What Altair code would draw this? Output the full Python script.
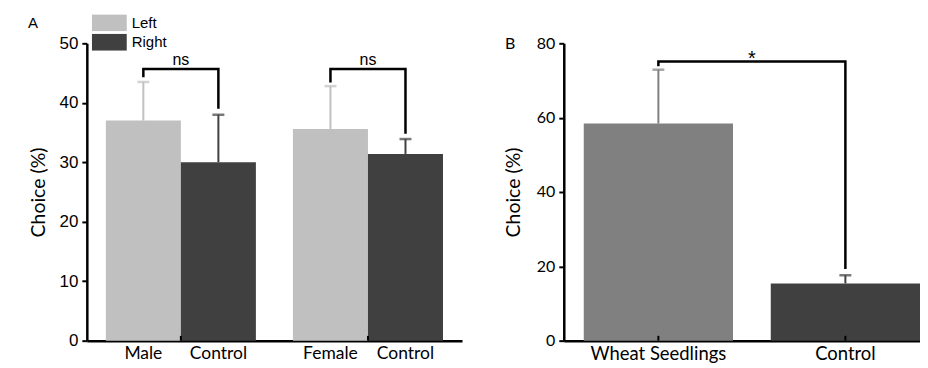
import altair as alt
import pandas as pd

# ---------------- Panel A data ----------------
groups_a = ["Male", "Female"]
sides_a = ["Left", "Right"]
left_mean = [37.0, 35.6]
left_sem = [6.5, 7.2]
right_mean = [30.0, 31.4]
right_sem = [8.0, 2.5]
labels_left = ["Male", "Female"]
labels_right = ["Control", "Control"]
bracket_a_top = [45.7, 45.7]
bracket_a_left_end = [44.3, 43.4]
bracket_a_right_end = [39.0, 34.8]
sig_a = ["ns", "ns"]

# ---------------- Panel B data ----------------
cats_b = ["Wheat Seedlings", "Control"]
mean_b = [58.4, 15.4]
sem_b = [14.5, 2.2]
bracket_b_top = [75.1]
bracket_b_left_end = [73.8]
bracket_b_right_end = [19.3]
sig_b = ["*"]

# ---------------- tables ----------------
rows_a = []
for i, g in enumerate(groups_a):
    rows_a.append(dict(group=g, side="Left", mean=left_mean[i], upper=left_mean[i] + left_sem[i], label=labels_left[i]))
    rows_a.append(dict(group=g, side="Right", mean=right_mean[i], upper=right_mean[i] + right_sem[i], label=labels_right[i]))
df_a = pd.DataFrame(rows_a)

br_a = []
for i, g in enumerate(groups_a):
    br_a += [dict(group=g, side="Left", y=bracket_a_left_end[i], k=0),
             dict(group=g, side="Left", y=bracket_a_top[i], k=1),
             dict(group=g, side="Right", y=bracket_a_top[i], k=2),
             dict(group=g, side="Right", y=bracket_a_right_end[i], k=3)]
df_br_a = pd.DataFrame(br_a)
df_sig_a = pd.DataFrame(dict(group=groups_a, top=bracket_a_top, sig=sig_a))
df_tick_a = pd.DataFrame(dict(group=groups_a))

grp_b = "B"
df_b = pd.DataFrame(dict(grp=[grp_b] * 2, cat=cats_b, mean=mean_b,
                         upper=[m + s for m, s in zip(mean_b, sem_b)]))
df_br_b = pd.DataFrame(dict(grp=[grp_b] * 4, cat=[cats_b[0], cats_b[0], cats_b[1], cats_b[1]],
                            y=[bracket_b_left_end[0], bracket_b_top[0], bracket_b_top[0], bracket_b_right_end[0]],
                            k=[0, 1, 2, 3]))
df_sig_b = pd.DataFrame(dict(grp=[grp_b], top=bracket_b_top, sig=sig_b))

H = 298
SANS_A = "Liberation Sans"
SANS_B = "Lato"

# ---------------- Panel A ----------------
xa = alt.X("group:N", sort=groups_a, title=None,
           scale=alt.Scale(paddingInner=0.198, paddingOuter=0.1016),
           axis=alt.Axis(labels=False, ticks=False, domainWidth=2.5, domainColor="black"))
xoa = alt.XOffset("side:N", sort=sides_a, scale=alt.Scale(paddingInner=0, paddingOuter=0))
ysc_a = alt.Scale(domain=[0, 50], nice=False, zero=True)
yax_a = alt.Axis(values=[0, 10, 20, 30, 40, 50], title="Choice (%)", grid=False,
                 labelFont=SANS_A, labelFontSize=17, labelPadding=4, labelColor="black",
                 titleFont=SANS_B, titleFontSize=19.5, titleFontWeight="normal", titlePadding=11,
                 titleColor="black", domainWidth=2.5, domainColor="black",
                 tickSize=5, tickWidth=2, tickColor="black")

cA = "#c0c0c0"
cB = "#404040"

bars_a = alt.Chart(df_a).mark_bar().encode(
    x=xa, xOffset=xoa,
    y=alt.Y("mean:Q", scale=ysc_a, axis=yax_a),
    color=alt.Color("side:N", sort=sides_a,
                    scale=alt.Scale(domain=sides_a, range=[cA, cB]),
                    legend=alt.Legend(title=None, orient="none", legendX=5, legendY=-29,
                                      symbolType="M-1,-0.486H1V0.486H-1Z", symbolSize=1225,
                                      symbolStrokeWidth=0, symbolOpacity=1, clipHeight=17,
                                      rowPadding=2.5, labelFont=SANS_A, labelFontSize=15,
                                      labelColor="black", labelOffset=5)),
)
err_color_a = alt.condition(alt.datum.side == "Left", alt.value(cA), alt.value(cB))
err_a = alt.Chart(df_a).mark_rule(strokeWidth=2).encode(
    x=xa, xOffset=xoa, y=alt.Y("mean:Q", scale=ysc_a), y2="upper:Q", color=err_color_a)
cap_a = alt.Chart(df_a).mark_tick(thickness=2.5, size=12).encode(
    x=xa, xOffset=xoa, y=alt.Y("upper:Q", scale=ysc_a), color=err_color_a)
brk_a = alt.Chart(df_br_a).mark_line(color="black", strokeWidth=2.5, strokeJoin="miter").encode(
    x=xa, xOffset=xoa, y=alt.Y("y:Q", scale=ysc_a), detail="group:N", order="k:Q")
sig_text_a = alt.Chart(df_sig_a).mark_text(font=SANS_A, fontSize=16, baseline="bottom", dy=-1, color="black").encode(
    x=xa, y=alt.Y("top:Q", scale=ysc_a), text="sig:N")
lab_a = alt.Chart(df_a).mark_text(font=SANS_B, fontSize=17.5, baseline="top", dy=4, color="black").encode(
    x=xa, xOffset=xoa, y=alt.datum(0, scale=ysc_a), text="label:N")
tick_a = alt.Chart(df_tick_a).mark_rule(strokeWidth=2, color="black").encode(
    x=xa, y=alt.datum(0, scale=ysc_a), y2=alt.datum(0.8))

panel_a = alt.layer(bars_a, err_a, cap_a, brk_a, sig_text_a, lab_a, tick_a).properties(
    width=376, height=H,
    title=alt.TitleParams("A", anchor="start", frame="group", dx=-59, offset=-17, font=SANS_A,
                          fontSize=15, fontWeight="normal", color="black"))

# ---------------- Panel B ----------------
xb = alt.X("grp:N", title=None,
           scale=alt.Scale(paddingInner=0, paddingOuter=0.0297, align=1),
           axis=alt.Axis(labels=False, ticks=False, domainWidth=2.5, domainColor="black"))
xob = alt.XOffset("cat:N", sort=cats_b, scale=alt.Scale(paddingInner=0.202, paddingOuter=0))
ysc_b = alt.Scale(domain=[0, 80], nice=False, zero=True)
yax_b = alt.Axis(values=[0, 20, 40, 60, 80], title="Choice (%)", grid=False,
                 labelFont=SANS_B, labelFontSize=16, labelPadding=4, labelColor="black",
                 titleFont=SANS_B, titleFontSize=19.5, titleFontWeight="normal", titlePadding=13,
                 titleColor="black", domainWidth=2.5, domainColor="black",
                 tickSize=5, tickWidth=2, tickColor="black")
cW = "#808080"
bars_b = alt.Chart(df_b).mark_bar().encode(
    x=xb, xOffset=xob,
    y=alt.Y("mean:Q", scale=ysc_b, axis=yax_b),
    color=alt.Color("cat:N", sort=cats_b, scale=alt.Scale(domain=cats_b, range=[cW, cB]), legend=None),
)
err_color_b = alt.condition(alt.datum.cat == cats_b[0], alt.value(cW), alt.value(cB))
err_b = alt.Chart(df_b).mark_rule(strokeWidth=2).encode(
    x=xb, xOffset=xob, y=alt.Y("mean:Q", scale=ysc_b), y2="upper:Q", color=err_color_b)
cap_b = alt.Chart(df_b).mark_tick(thickness=2.5, size=12).encode(
    x=xb, xOffset=xob, y=alt.Y("upper:Q", scale=ysc_b), color=err_color_b)
brk_b = alt.Chart(df_br_b).mark_line(color="black", strokeWidth=2.5, strokeJoin="miter").encode(
    x=xb, xOffset=xob, y=alt.Y("y:Q", scale=ysc_b), order="k:Q")
sig_text_b = alt.Chart(df_sig_b).mark_text(font=SANS_A, fontSize=20, baseline="bottom", dy=7, color="black").encode(
    x=xb, y=alt.Y("top:Q", scale=ysc_b), text="sig:N")
lab_b = alt.Chart(df_b).mark_text(font=SANS_B, fontSize=18.5, baseline="top", dy=4, color="black").encode(
    x=xb, xOffset=xob, y=alt.datum(0, scale=ysc_b), text="cat:N")
tick_b = alt.Chart(df_b).mark_rule(strokeWidth=2, color="black").encode(
    x=xb, xOffset=xob, y=alt.datum(0, scale=ysc_b), y2=alt.datum(1.3))

panel_b = alt.layer(bars_b, err_b, cap_b, brk_b, sig_text_b, lab_b, tick_b).properties(
    width=357, height=H,
    title=alt.TitleParams("B", anchor="start", frame="group", dx=-59, offset=-17, font=SANS_B,
                          fontSize=16, fontWeight="normal", color="black"))

chart = alt.hconcat(panel_a, panel_b, spacing=41).resolve_scale(
    color="independent", x="independent", y="independent", xOffset="independent"
).properties(padding={"left": 20, "top": 6, "right": 0, "bottom": 0}).configure_view(stroke=None)

chart.save("out.html", embed_options={"renderer": "svg", "actions": False})
